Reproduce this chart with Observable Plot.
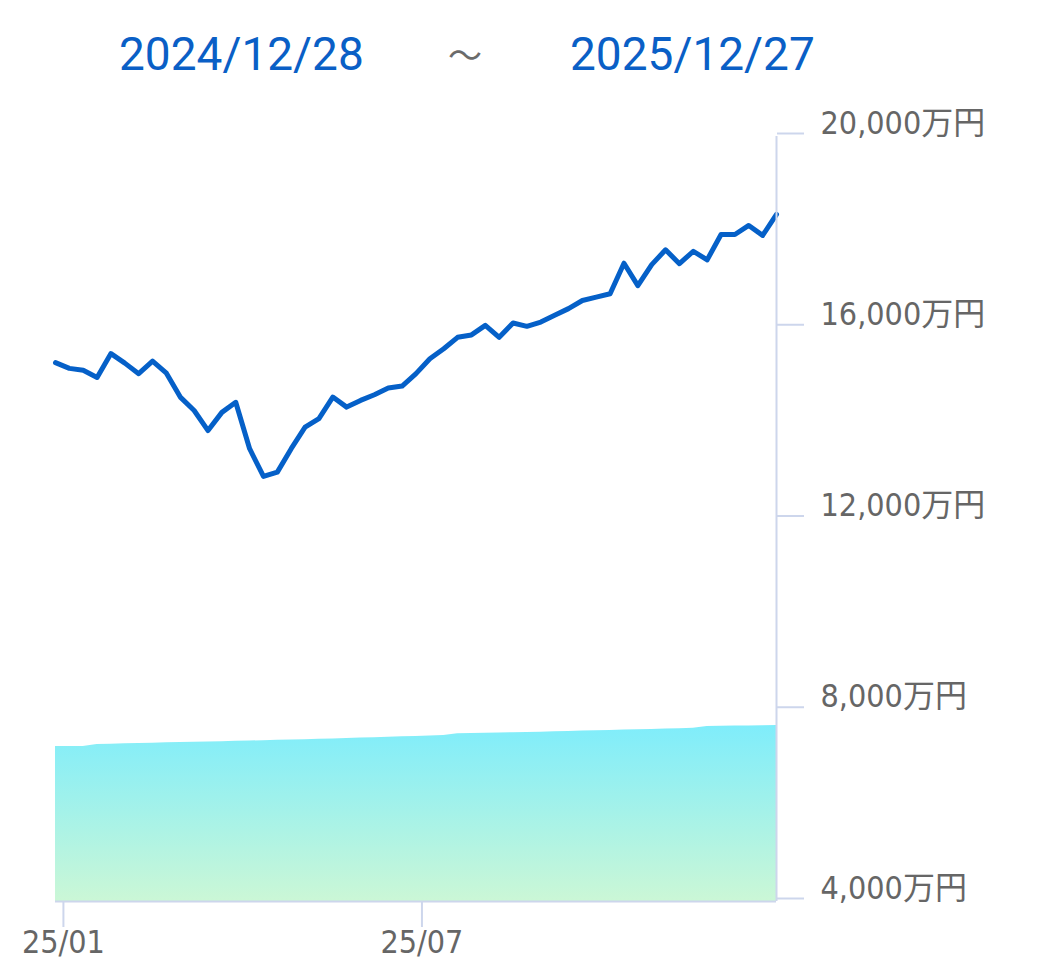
<!DOCTYPE html>
<html>
<head>
<meta charset="utf-8">
<script src="https://cdn.jsdelivr.net/npm/d3@7"></script>
<script src="https://cdn.jsdelivr.net/npm/@observablehq/plot@0.6"></script>
<style>
  html, body { margin: 0; padding: 0; background: #fff; }
  #wrap { position: relative; width: 1046px; height: 977px; overflow: hidden; }
  #title { position: relative; height: 80px; width: 1046px; font-family: Roboto, "Liberation Sans", sans-serif; }
  #title span { position: absolute; line-height: 1; white-space: nowrap; }
  .d { font-size: 46px; color: #0A5FC6; top: 31px; }
  .t { font-size: 34px; color: #6b6b6b; top: 37px; font-family: "Noto Sans CJK JP", sans-serif; }
</style>
</head>
<body>
<div id="wrap">
  <div id="title">
    <span class="d" id="startLabel" style="left:119px"></span>
    <span class="t" id="tilde" style="left:448px"></span>
    <span class="d" id="endLabel" style="left:570px"></span>
  </div>
  <div id="chart"></div>
</div>
<script>
const titleStart = "2024/12/28";
const titleSep = "～";
const titleEnd = "2025/12/27";

const dates = [
  "2024-12-28","2025-01-04","2025-01-11","2025-01-18","2025-01-25","2025-02-01","2025-02-08","2025-02-15","2025-02-22",
  "2025-03-01","2025-03-08","2025-03-15","2025-03-22","2025-03-29","2025-04-05","2025-04-12","2025-04-19","2025-04-26",
  "2025-05-03","2025-05-10","2025-05-17","2025-05-24","2025-05-31","2025-06-07","2025-06-14","2025-06-21","2025-06-28",
  "2025-07-05","2025-07-12","2025-07-19","2025-07-26","2025-08-02","2025-08-09","2025-08-16","2025-08-23","2025-08-30",
  "2025-09-06","2025-09-13","2025-09-20","2025-09-27","2025-10-04","2025-10-11","2025-10-18","2025-10-25",
  "2025-11-01","2025-11-08","2025-11-15","2025-11-22","2025-11-29","2025-12-06","2025-12-13","2025-12-20","2025-12-27"
];

// 評価額（万円）
const assetValues = [
  15270,15150,15110,14960,15460,15260,15040,15300,15050,14550,14270,13850,14230,14440,13470,12890,12980,13470,
  13920,14100,14550,14340,14480,14600,14740,14780,15040,15350,15560,15800,15850,16050,15800,16100,16030,16120,
  16260,16400,16570,16640,16710,17350,16880,17320,17630,17340,17600,17420,17950,17950,18140,17930,18370
];

// 投資額（万円）
const investedValues = [
  7242,7242,7242,7284,7290,7297,7303,7311,7318,7324,7330,7337,7343,7351,7357,7363,7370,7378,
  7384,7393,7401,7409,7418,7426,7434,7445,7453,7462,7470,7508,7514,7520,7524,7531,7537,7541,
  7548,7556,7564,7570,7579,7585,7593,7600,7608,7614,7623,7660,7664,7668,7672,7677,7681
];

const yTicks = [4000, 8000, 12000, 16000, 20000];
const xTicks = ["2025-01-01", "2025-07-01"];
const yUnit = "万円";

document.getElementById("startLabel").textContent = titleStart;
document.getElementById("tilde").textContent = titleSep;
document.getElementById("endLabel").textContent = titleEnd;

const parse = d3.utcParse("%Y-%m-%d");
const data = dates.map((d, i) => ({date: parse(d), asset: assetValues[i], invested: investedValues[i]}));
const xDomain = [parse(dates[0]), parse(dates[dates.length - 1])];
const axisColor = "#CDD6EC";
const labelColor = "#666666";

const chart = Plot.plot({
  width: 1046,
  height: 897,
  marginTop: 56,
  marginBottom: 76,
  marginLeft: 55,
  marginRight: 270,
  style: {
    fontFamily: "'Liberation Sans Narrow', 'DejaVu Sans', 'Noto Sans CJK JP', sans-serif",
    fontStretch: "condensed",
    fontSize: "32px",
    color: labelColor,
    background: "#fff",
    overflow: "visible"
  },
  x: {type: "utc", domain: xDomain},
  y: {domain: [4000, 20000]},
  marks: [
    Plot.areaY(data, {x: "date", y1: 4000, y2: "invested", fill: "url(#investGrad)", curve: "linear"}),
    Plot.lineY(data, {x: "date", y: "asset", stroke: "#0560C8", strokeWidth: 5, strokeLinejoin: "round"}),
    Plot.ruleY([4000], {stroke: axisColor, strokeWidth: 2}),
    Plot.ruleX([xDomain[1]], {stroke: axisColor, strokeWidth: 2}),
    Plot.axisY({
      anchor: "right",
      ticks: yTicks,
      tickSize: 27,
      tickPadding: 17,
      stroke: axisColor,
      strokeWidth: 2,
      strokeOpacity: 1,
      fill: labelColor,
      lineAnchor: "bottom",
      dy: -3,
      label: null,
      tickFormat: d => d3.format(",")(d) + yUnit
    }),
    Plot.axisX({
      anchor: "bottom",
      ticks: xTicks.map(parse),
      tickSize: 26,
      tickPadding: 3,
      stroke: axisColor,
      strokeWidth: 2,
      strokeOpacity: 1,
      fill: labelColor,
      label: null,
      tickFormat: d3.utcFormat("%y/%m")
    })
  ]
});

// gradient definition for the invested area
const ns = "http://www.w3.org/2000/svg";
const defs = document.createElementNS(ns, "defs");
const grad = document.createElementNS(ns, "linearGradient");
grad.setAttribute("id", "investGrad");
grad.setAttribute("x1", "0"); grad.setAttribute("y1", "0");
grad.setAttribute("x2", "0"); grad.setAttribute("y2", "1");
[["0%", "#7FEDFB"], ["100%", "#CBF7D6"]].forEach(([o, c]) => {
  const s = document.createElementNS(ns, "stop");
  s.setAttribute("offset", o);
  s.setAttribute("stop-color", c);
  grad.appendChild(s);
});
defs.appendChild(grad);
chart.insertBefore(defs, chart.firstChild);

document.getElementById("chart").appendChild(chart);
</script>
</body>
</html>
